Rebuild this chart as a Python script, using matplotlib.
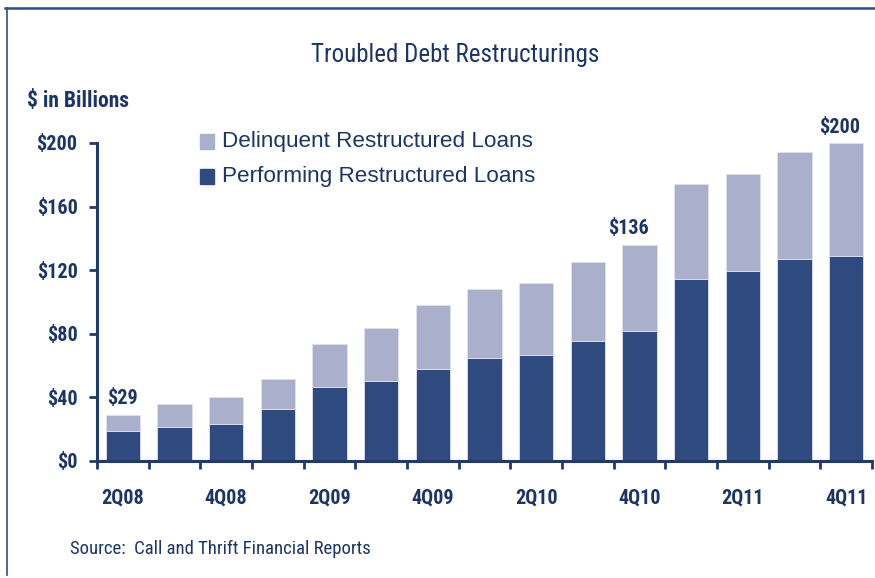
import matplotlib
matplotlib.use("Agg")
import matplotlib.pyplot as plt
from matplotlib.lines import Line2D
from matplotlib.patches import Rectangle
import numpy as np

quarters = ["2Q08", "3Q08", "4Q08", "1Q09", "2Q09", "3Q09", "4Q09", "1Q10",
            "2Q10", "3Q10", "4Q10", "1Q11", "2Q11", "3Q11", "4Q11"]
performing = [18.7, 21.2, 23.3, 32.7, 46.5, 50.3, 57.9, 64.8,
              66.7, 75.7, 82.0, 114.5, 119.5, 127.0, 129.0]
total = [29.0, 35.7, 40.0, 51.8, 73.6, 83.6, 98.0, 108.0,
         112.0, 125.0, 136.0, 174.0, 180.3, 194.5, 200.0]
delinquent = [t - p for t, p in zip(total, performing)]
yticks = [0, 40, 80, 120, 160, 200]
ytick_labels = ["$0", "$40", "$80", "$120", "$160", "$200"]
shown_labels = {0: "$29", 10: "$136", 14: "$200"}

NAVY = "#1c3566"
DARK = "#2f4a7f"
LIGHT = "#aaafcc"
AXC = "#1f3a6e"

narrow = ["Roboto Condensed", "Archivo Narrow", "Liberation Sans", "DejaVu Sans"]
regular = ["Liberation Sans", "DejaVu Sans"]

W, H = 875, 578
fig = plt.figure(figsize=(W / 100, H / 100), dpi=100)
ax = fig.add_axes([97 / W, 1 - 461 / H, (872 - 97) / W, (461 - 143) / H])

x = np.arange(len(quarters))
ax.bar(x, performing, width=0.66, color=DARK, edgecolor="#dfe2ee", linewidth=0.6, zorder=2)
ax.bar(x, delinquent, bottom=performing, width=0.66, color=LIGHT,
       edgecolor="#dfe2ee", linewidth=0.6, zorder=2, clip_on=False)

ax.set_xlim(-0.5, len(quarters) - 0.5)
ax.set_ylim(0, 200)
for s in ["top", "right"]:
    ax.spines[s].set_visible(False)
for s in ["left", "bottom"]:
    ax.spines[s].set_color(AXC)
    ax.spines[s].set_linewidth(2.2)

ax.set_yticks(yticks)
ax.set_yticklabels(ytick_labels, family=narrow, weight="bold", fontsize=14.5, color=NAVY)
ax.tick_params(axis="y", length=6, width=2, color=AXC, direction="out", pad=8)

ax.set_xticks(np.arange(-0.5, len(quarters), 1.0))
ax.set_xticklabels([])
ax.tick_params(axis="x", length=6, width=2, color=AXC, direction="out")
for i in range(0, len(quarters), 2):
    ax.text(x[i], -23.3, quarters[i], ha="center", va="center", family=narrow,
            weight="bold", fontsize=14.5, color=NAVY, clip_on=False)

offsets = {0: (0, 10), 10: (-0.22, 10), 14: (-0.12, 10)}
for i, lab in shown_labels.items():
    dx, dy = offsets[i]
    ax.text(x[i] + dx, total[i] + dy, lab, ha="center", va="center", family=narrow,
            weight="bold", fontsize=14.5, color=NAVY, clip_on=False)

# legend
for yy, col, lab in [(142, LIGHT, "Delinquent Restructured Loans"),
                     (177, DARK, "Performing Restructured Loans")]:
    fig.patches.append(Rectangle((200 / W, 1 - (yy + 7) / H), 14 / W, 15 / H,
                                 transform=fig.transFigure, color=col))
    fig.text(222 / W, 1 - yy / H, lab, ha="left", va="center", family=regular,
             fontsize=16.2, color=NAVY)

fig.text(455 / W, 1 - 55 / H, "Troubled Debt Restructurings", ha="center", va="center",
         family=narrow, fontsize=18, color=NAVY)
fig.text(27 / W, 1 - 101 / H, "$ in Billions", ha="left", va="center",
         family=narrow, weight="bold", fontsize=15.5, color=NAVY)
fig.text(70 / W, 1 - 549 / H, "Source:  Call and Thrift Financial Reports", ha="left",
         va="center", family=narrow, fontsize=13.5, color=NAVY)

fig.add_artist(Line2D([5 / W, 1.0], [1 - 8 / H, 1 - 8 / H], transform=fig.transFigure,
                      color="#2c4f82", linewidth=1.8))
fig.add_artist(Line2D([7 / W, 7 / W], [1 - 8 / H, 1 - 575 / H], transform=fig.transFigure,
                      color="#2c4f82", linewidth=1.2))

fig.savefig("out.png", dpi=100)
